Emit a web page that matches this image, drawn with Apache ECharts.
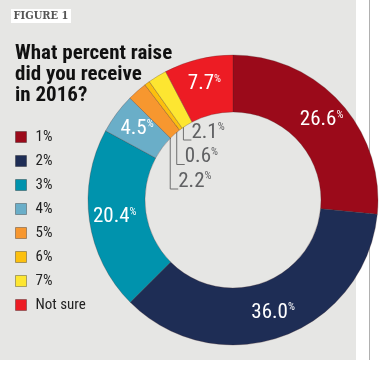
<!DOCTYPE html>
<html><head><meta charset="utf-8">
<script src="https://cdn.jsdelivr.net/npm/echarts@6/dist/echarts.min.js"></script>
<style>html,body{margin:0;padding:0;background:#fff}#c{width:382px;height:368px}</style>
</head><body><div id="c"></div>
<script>
const categories = ['1%', '2%', '3%', '4%', '5%', '6%', '7%', 'Not sure'];
const values = [26.6, 36.0, 20.4, 4.5, 2.2, 0.6, 2.1, 7.7];
const colors = ['#9b0a1a', '#1e2d55', '#0093ad', '#6aaec8', '#f7972f', '#fcc00e', '#fde631', '#ed1c24'];
const outsideLabels = [4, 5, 6];

const FONT = '"Liberation Sans Narrow", "Roboto Condensed", Roboto, sans-serif';
const CX = 233, CY = 200, R0 = 88, R1 = 145;
const total = values.reduce((a, b) => a + b, 0);

const chart = echarts.init(document.getElementById('c'), null, {renderer: 'canvas'});

const data = categories.map((name, i) => {
  const outside = outsideLabels.indexOf(i) >= 0;
  return {
    name: name,
    value: values[i],
    itemStyle: {color: colors[i]},
    label: outside ? {position: 'outside', color: '#606163'} : {position: 'inside', color: '#ffffff'},
    labelLine: {show: outside, lineStyle: {color: '#6f6f6f', width: 1}}
  };
});

function midAngle(i) {
  let before = 0;
  for (let k = 0; k < i; k++) before += values[k];
  return (before + values[i] / 2) / total * Math.PI * 2;
}

chart.setOption({
  animation: false,
  backgroundColor: '#ffffff',
  graphic: [
    {type: 'rect', z: -10, shape: {x: 0, y: 0, width: 356, height: 360}, style: {fill: '#e6e6e4'}},
    {type: 'line', z: -10, shape: {x1: 369.5, y1: 0, x2: 369.5, y2: 360}, style: {stroke: '#b0b0b0', lineWidth: 1}},
    {type: 'rect', z: 5, shape: {x: 11, y: 9, width: 60, height: 14}, style: {fill: '#ffffff'}},
    {type: 'text', z: 6, x: 41, y: 16.5, style: {text: 'FIGURE 1', fill: '#555555', font: 'bold 11px "DejaVu Serif Condensed", "DejaVu Serif", serif', align: 'center', verticalAlign: 'middle'}}
  ],
  title: {
    text: 'What percent raise\ndid you receive\nin 2016?',
    left: 10, top: 38,
    textStyle: {fontFamily: FONT, fontSize: 21, fontWeight: 'bold', color: '#111111', lineHeight: 21}
  },
  legend: {
    orient: 'vertical', left: 10, top: 124,
    itemWidth: 11, itemHeight: 11, itemGap: 8,
    icon: 'rect',
    itemStyle: {borderColor: 'rgba(0,0,0,0.3)', borderWidth: 1},
    textStyle: {fontFamily: FONT, fontSize: 15, lineHeight: 16, color: '#222222', padding: [0, 0, 0, 4]},
    data: categories
  },
  series: [{
    type: 'pie',
    center: [CX, CY],
    radius: [R0, R1],
    startAngle: 90,
    clockwise: true,
    avoidLabelOverlap: false,
    emphasis: {disabled: true},
    itemStyle: {borderColor: 'rgba(70,40,40,0.45)', borderWidth: 0.6},
    label: {
      show: true,
      formatter: p => '{n|' + p.value.toFixed(1) + '}{p|%}',
      rich: {
        n: {fontFamily: FONT, fontSize: 21},
        p: {fontFamily: FONT, fontSize: 11, verticalAlign: 'top', padding: [0, 0, 8, 0]}
      }
    },
    labelLayout: function (p) {
      const i = p.dataIndex;
      if (outsideLabels.indexOf(i) < 0) return {};
      const a = midAngle(i);
      const sx = CX + (R0 + 7) * Math.sin(a);
      const sy = CY - (R0 + 7) * Math.cos(a);
      const endY = 140 + (6 - i) * 24.5;
      return {
        x: sx + 8, y: endY + 3,
        align: 'left', verticalAlign: 'bottom',
        labelLinePoints: [[sx, sy], [sx, endY], [sx + 8, endY]]
      };
    },
    data: data
  }]
});
</script></body></html>
